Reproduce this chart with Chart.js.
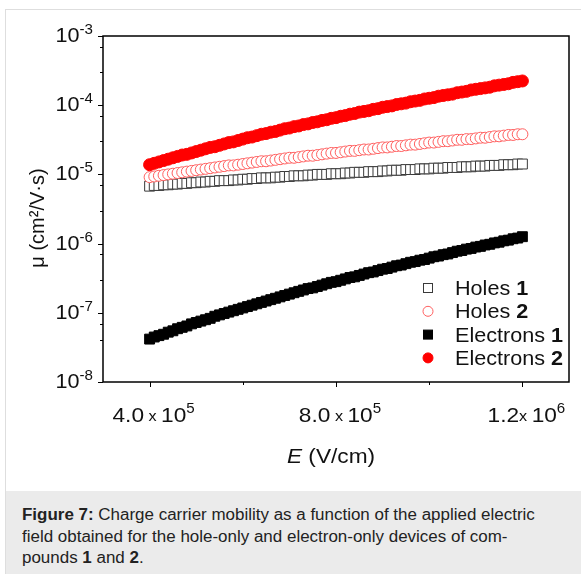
<!DOCTYPE html>
<html>
<head>
<meta charset="utf-8">
<script src="https://cdn.jsdelivr.net/npm/chart.js@4.4.1/dist/chart.umd.min.js"></script>
<style>
  html, body { margin: 0; padding: 0; background: #fff; }
  body { width: 581px; height: 574px; position: relative; overflow: hidden; font-family: 'Liberation Sans', Arial, sans-serif; }
  #box { position: absolute; left: 5px; top: 9px; width: 600px; height: 600px; border: 1px solid #dedede; box-sizing: border-box; }
  #caption { position: absolute; left: 6px; top: 491px; width: 580px; height: 90px; background: #ebebeb; }
  #caption div { position: absolute; left: 16px; top: 13px; white-space: nowrap; color: #222;
                 font-size: 16px; line-height: 21.5px; transform: scaleX(1.06); transform-origin: 0 0; }
  canvas { position: absolute; left: 0; top: 0; }
</style>
</head>
<body>
<div id="box"></div>
<div id="caption"><div><b>Figure 7:</b> Charge carrier mobility as a function of the applied electric<br>field obtained for the hole-only and electron-only devices of com-<br>pounds <b>1</b> and <b>2</b>.</div></div>
<canvas id="chart" width="581" height="574"></canvas>
<script>
// electric field E (V/cm)
const fieldE = [
  4.0e5, 4.1e5, 4.2e5, 4.3e5, 4.4e5, 4.5e5, 4.6e5, 4.7e5, 4.8e5, 4.9e5,
  5.0e5, 5.1e5, 5.2e5, 5.3e5, 5.4e5, 5.5e5, 5.6e5, 5.7e5, 5.8e5, 5.9e5,
  6.0e5, 6.1e5, 6.2e5, 6.3e5, 6.4e5, 6.5e5, 6.6e5, 6.7e5, 6.8e5, 6.9e5,
  7.0e5, 7.1e5, 7.2e5, 7.3e5, 7.4e5, 7.5e5, 7.6e5, 7.7e5, 7.8e5, 7.9e5,
  8.0e5, 8.1e5, 8.2e5, 8.3e5, 8.4e5, 8.5e5, 8.6e5, 8.7e5, 8.8e5, 8.9e5,
  9.0e5, 9.1e5, 9.2e5, 9.3e5, 9.4e5, 9.5e5, 9.6e5, 9.7e5, 9.8e5, 9.9e5,
  1.00e6, 1.01e6, 1.02e6, 1.03e6, 1.04e6, 1.05e6, 1.06e6, 1.07e6, 1.08e6, 1.09e6,
  1.10e6, 1.11e6, 1.12e6, 1.13e6, 1.14e6, 1.15e6, 1.16e6, 1.17e6, 1.18e6, 1.19e6,
  1.20e6
];

// log10 of mobility (cm2/V.s)
const logMuHoles1 = [
  -5.17, -5.16, -5.16, -5.15, -5.15, -5.14, -5.14, -5.13, -5.13, -5.12,
  -5.12, -5.11, -5.11, -5.10, -5.10, -5.09, -5.09, -5.09, -5.08, -5.08,
  -5.07, -5.07, -5.06, -5.06, -5.05, -5.05, -5.05, -5.04, -5.04, -5.03,
  -5.03, -5.02, -5.02, -5.02, -5.01, -5.01, -5.00, -5.00, -5.00, -4.99,
  -4.99, -4.99, -4.98, -4.98, -4.97, -4.97, -4.97, -4.96, -4.96, -4.96,
  -4.95, -4.95, -4.94, -4.94, -4.94, -4.93, -4.93, -4.93, -4.92, -4.92,
  -4.92, -4.91, -4.91, -4.91, -4.90, -4.90, -4.90, -4.89, -4.89, -4.89,
  -4.88, -4.88, -4.88, -4.87, -4.87, -4.87, -4.86, -4.86, -4.86, -4.85,
  -4.85
];
const logMuHoles2 = [
  -5.04, -5.03, -5.02, -5.01, -5.00, -4.99, -4.98, -4.97, -4.96, -4.95,
  -4.94, -4.93, -4.92, -4.91, -4.90, -4.89, -4.88, -4.87, -4.87, -4.86,
  -4.85, -4.84, -4.83, -4.82, -4.81, -4.81, -4.80, -4.79, -4.78, -4.77,
  -4.76, -4.76, -4.75, -4.74, -4.73, -4.73, -4.72, -4.71, -4.70, -4.69,
  -4.69, -4.68, -4.67, -4.66, -4.66, -4.65, -4.64, -4.64, -4.63, -4.62,
  -4.61, -4.61, -4.60, -4.59, -4.59, -4.58, -4.57, -4.57, -4.56, -4.55,
  -4.54, -4.54, -4.53, -4.52, -4.52, -4.51, -4.50, -4.50, -4.49, -4.49,
  -4.48, -4.47, -4.47, -4.46, -4.45, -4.45, -4.44, -4.43, -4.43, -4.42,
  -4.42
];
const logMuElectrons1 = [
  -7.38, -7.35, -7.33, -7.31, -7.28, -7.26, -7.23, -7.21, -7.19, -7.16,
  -7.14, -7.12, -7.10, -7.08, -7.05, -7.03, -7.01, -6.99, -6.97, -6.95,
  -6.93, -6.91, -6.89, -6.87, -6.85, -6.83, -6.81, -6.79, -6.77, -6.75,
  -6.73, -6.71, -6.69, -6.67, -6.65, -6.64, -6.62, -6.60, -6.58, -6.56,
  -6.55, -6.53, -6.51, -6.49, -6.48, -6.46, -6.44, -6.42, -6.41, -6.39,
  -6.37, -6.36, -6.34, -6.32, -6.31, -6.29, -6.27, -6.26, -6.24, -6.23,
  -6.21, -6.19, -6.18, -6.16, -6.15, -6.13, -6.11, -6.10, -6.08, -6.07,
  -6.05, -6.04, -6.02, -6.01, -5.99, -5.98, -5.96, -5.95, -5.93, -5.92,
  -5.90
];
const logMuElectrons2 = [
  -4.86, -4.84, -4.82, -4.80, -4.78, -4.76, -4.74, -4.72, -4.71, -4.69,
  -4.67, -4.65, -4.63, -4.61, -4.60, -4.58, -4.56, -4.54, -4.53, -4.51,
  -4.49, -4.47, -4.46, -4.44, -4.42, -4.41, -4.39, -4.38, -4.36, -4.34,
  -4.33, -4.31, -4.30, -4.28, -4.27, -4.25, -4.24, -4.22, -4.21, -4.19,
  -4.18, -4.16, -4.15, -4.13, -4.12, -4.10, -4.09, -4.08, -4.06, -4.05,
  -4.03, -4.02, -4.01, -3.99, -3.98, -3.97, -3.95, -3.94, -3.93, -3.91,
  -3.90, -3.89, -3.87, -3.86, -3.85, -3.84, -3.82, -3.81, -3.80, -3.78,
  -3.77, -3.76, -3.75, -3.74, -3.72, -3.71, -3.70, -3.69, -3.67, -3.66,
  -3.65
];

const seriesNames = ['Holes', 'Holes', 'Electrons', 'Electrons'];
const seriesCompounds = ['1', '2', '1', '2'];

// axis ticks
const xMajorTicks = [4.0e5, 8.0e5, 1.2e6];
const xMinorTicks = [6.0e5, 1.0e6];
const xTickMantissa = ['4.0', '8.0', '1.2'];
const xTickTimes = [' x ', ' x ', 'x '];
const xTickExponent = ['5', '5', '6'];
const yTickExponents = [-3, -4, -5, -6, -7, -8];

const FONT = "'Liberation Sans', Arial, sans-serif";
const STRETCH = 1.08; // reference text is a little wider than Arial

const toPoints = logs => fieldE.map((e, i) => ({ x: e, y: Math.pow(10, logs[i]) }));

const styles = [
  { pointStyle: 'rect', radius: 7, fill: '#ffffff', stroke: '#3a3a3a', order: 2 },
  { pointStyle: 'circle', radius: 5.5, fill: '#ffffff', stroke: '#ff5f5f', order: 1 },
  { pointStyle: 'rect', radius: 7, fill: '#000000', stroke: '#000000', order: 3 },
  { pointStyle: 'circle', radius: 6, fill: '#ff0000', stroke: '#ff0000', order: 0 }
];
const allLogs = [logMuHoles1, logMuHoles2, logMuElectrons1, logMuElectrons2];

// draw text made of pieces (for superscripts)
function drawPieces(ctx, pieces, x, y, align, sx) {
  sx = sx || STRETCH;
  let total = 0;
  pieces.forEach(p => { ctx.font = p.font; total += ctx.measureText(p.t).width * sx; });
  let cx = align === 'right' ? x - total : align === 'center' ? x - total / 2 : x;
  ctx.textAlign = 'left';
  ctx.textBaseline = 'alphabetic';
  pieces.forEach(p => {
    ctx.font = p.font;
    ctx.save();
    ctx.translate(cx, y + (p.dy || 0));
    ctx.scale(sx, 1);
    ctx.fillText(p.t, 0, 0);
    ctx.restore();
    cx += ctx.measureText(p.t).width * sx;
  });
}

const axesPlugin = {
  id: 'axesPlugin',
  afterDraw(chart) {
    const ctx = chart.ctx;
    const a = chart.chartArea;
    const xs = chart.scales.x, ys = chart.scales.y;
    ctx.save();
    ctx.fillStyle = '#000';
    ctx.strokeStyle = '#000';

    // frame
    ctx.lineWidth = 1.5;
    ctx.strokeRect(a.left, a.top, a.right - a.left, a.bottom - a.top);

    // y ticks (log, major + minor) from the scale ticks
    ctx.lineWidth = 1;
    ys.ticks.forEach(t => {
      const py = Math.round(ys.getPixelForValue(t.value)) + 0.5;
      const lg = Math.log10(t.value);
      const major = Math.abs(lg - Math.round(lg)) < 1e-6;
      const len = major ? 5 : 3;
      ctx.beginPath();
      ctx.moveTo(a.left, py);
      ctx.lineTo(a.left - len, py);
      ctx.stroke();
    });

    // x ticks
    xMajorTicks.forEach(v => {
      const px = Math.round(xs.getPixelForValue(v)) + 0.5;
      ctx.beginPath(); ctx.moveTo(px, a.bottom); ctx.lineTo(px, a.bottom + 5); ctx.stroke();
    });
    xMinorTicks.forEach(v => {
      const px = Math.round(xs.getPixelForValue(v)) + 0.5;
      ctx.beginPath(); ctx.moveTo(px, a.bottom); ctx.lineTo(px, a.bottom + 3); ctx.stroke();
    });

    ctx.fillStyle = '#111';
    // y tick labels
    yTickExponents.forEach(e => {
      const py = ys.getPixelForValue(Math.pow(10, e));
      drawPieces(ctx, [
        { t: '10', font: `20px ${FONT}` },
        { t: String(e), font: `14px ${FONT}`, dy: -8 }
      ], a.left - 10, py + 6, 'right');
    });

    // x tick labels
    xMajorTicks.forEach((v, i) => {
      const px = xs.getPixelForValue(v);
      drawPieces(ctx, [
        { t: xTickMantissa[i], font: `21px ${FONT}` },
        { t: xTickTimes[i], font: `15px ${FONT}`, dy: -1 },
        { t: '10', font: `21px ${FONT}` },
        { t: xTickExponent[i], font: `14px ${FONT}`, dy: -9 }
      ], px + 4, a.bottom + 40, 'center');
    });

    // axis titles
    drawPieces(ctx, [
      { t: 'E', font: `italic 21px ${FONT}` },
      { t: ' (V/cm)', font: `21px ${FONT}` }
    ], 331, a.bottom + 81, 'center');

    ctx.save();
    ctx.translate(44, 218);
    ctx.rotate(-Math.PI / 2);
    drawPieces(ctx, [{ t: 'μ (cm²/V·s)', font: `20px ${FONT}` }], 0, 0, 'center', 1);
    ctx.restore();

    // legend
    const lx = 428, ly0 = 288, dy = 23.3;
    seriesNames.forEach((name, i) => {
      const s = styles[i];
      const y = ly0 + i * dy;
      ctx.lineWidth = 1;
      ctx.fillStyle = s.fill;
      ctx.strokeStyle = s.stroke;
      if (s.pointStyle === 'rect') {
        ctx.fillRect(lx - 4.5, y - 4.5, 9, 9);
        ctx.strokeRect(lx - 4.5, y - 4.5, 9, 9);
      } else {
        ctx.beginPath(); ctx.arc(lx, y, 5, 0, Math.PI * 2); ctx.fill(); ctx.stroke();
      }
      ctx.fillStyle = '#111';
      drawPieces(ctx, [
        { t: name + ' ', font: `20px ${FONT}` },
        { t: seriesCompounds[i], font: `bold 20px ${FONT}` }
      ], lx + 27, y + 7, 'left');
    });
    ctx.restore();
  }
};

new Chart(document.getElementById('chart'), {
  type: 'scatter',
  data: {
    datasets: allLogs.map((logs, i) => ({
      label: seriesNames[i] + ' ' + seriesCompounds[i],
      data: toPoints(logs),
      pointStyle: styles[i].pointStyle,
      pointRadius: styles[i].radius,
      pointBackgroundColor: styles[i].fill,
      pointBorderColor: styles[i].stroke,
      pointBorderWidth: 1,
      showLine: false,
      order: styles[i].order
    }))
  },
  options: {
    responsive: false,
    animation: false,
    events: [],
    layout: { padding: { left: 103, top: 36, right: 12, bottom: 192 } },
    plugins: { legend: { display: false }, tooltip: { enabled: false } },
    scales: {
      x: { type: 'linear', min: 3.0e5, max: 1.3e6, display: false },
      y: { type: 'logarithmic', min: 1e-8, max: 1e-3, display: false }
    }
  },
  plugins: [axesPlugin]
});
</script>
</body>
</html>
